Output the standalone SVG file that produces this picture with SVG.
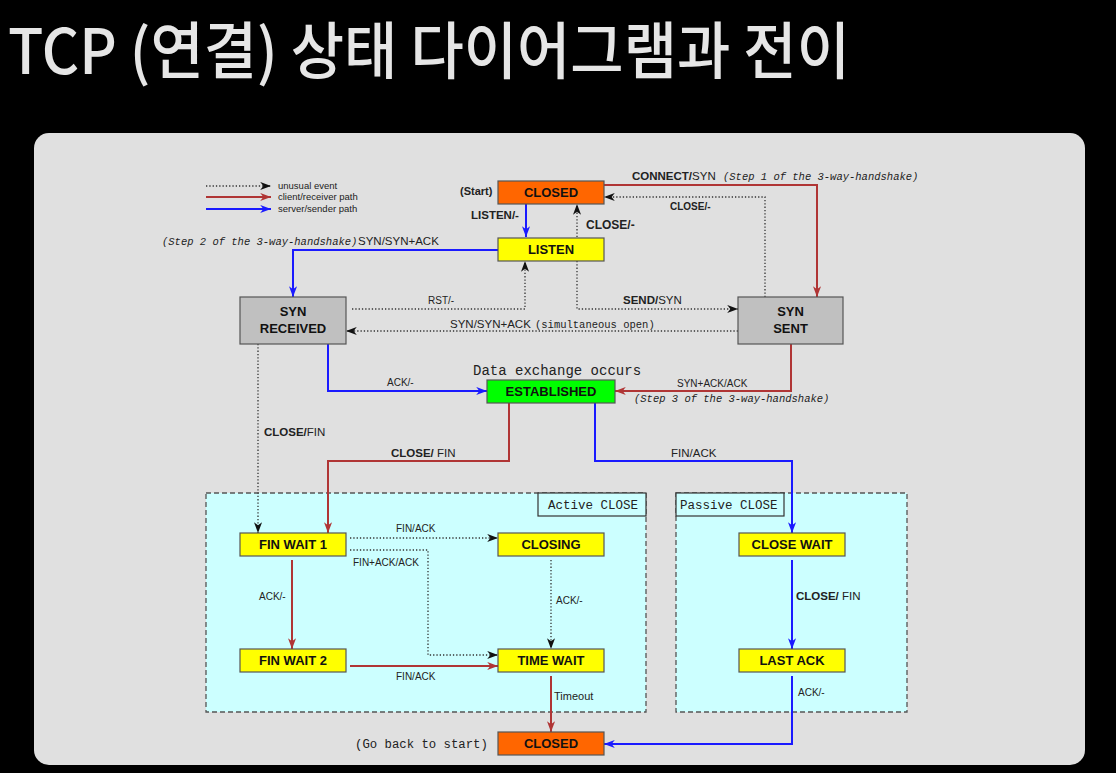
<svg xmlns="http://www.w3.org/2000/svg" width="1116" height="773" viewBox="0 0 1116 773">
<style>
.node rect{stroke:#555;stroke-width:1.2}
.nt{font-family:"Liberation Sans",Arial,sans-serif;font-weight:bold;font-size:13px;fill:#111;text-anchor:middle}
.lb{font-family:"Liberation Sans",Arial,sans-serif;fill:#222}
.b{font-weight:bold}
.mono{font-family:"Liberation Mono","DejaVu Sans Mono",monospace;fill:#222}
.it{font-style:italic}
.red{fill:none;stroke:#b03535;stroke-width:2;marker-end:url(#mr)}
.blue{fill:none;stroke:#1a1aff;stroke-width:2;marker-end:url(#mb)}
.dot{fill:none;stroke:#333;stroke-width:1.3;stroke-dasharray:1.3 2;marker-end:url(#mk)}
.zone{fill:#ccffff;stroke:#555;stroke-width:1.3;stroke-dasharray:5 3}
</style>
<defs>
<marker id="mr" viewBox="0 0 12 10" refX="12" refY="5" markerWidth="12" markerHeight="9" orient="auto" markerUnits="userSpaceOnUse"><path d="M0,0.5 L12,5 L0,9.5 L3.5,5 Z" fill="#b03535"/></marker>
<marker id="mb" viewBox="0 0 12 10" refX="12" refY="5" markerWidth="12" markerHeight="9" orient="auto" markerUnits="userSpaceOnUse"><path d="M0,0.5 L12,5 L0,9.5 L3.5,5 Z" fill="#1a1aff"/></marker>
<marker id="mk" viewBox="0 0 12 10" refX="12" refY="5" markerWidth="12" markerHeight="9" orient="auto" markerUnits="userSpaceOnUse"><path d="M0,0.5 L12,5 L0,9.5 L3.5,5 Z" fill="#111"/></marker>
</defs>
<rect width="1116" height="773" fill="#000"/>
<text x="8" y="74" font-family="'Noto Sans CJK KR','Noto Sans',sans-serif" font-size="62" font-weight="500" fill="#e6e6e6" textLength="842" lengthAdjust="spacingAndGlyphs">TCP (연결) 상태 다이어그램과 전이</text>
<rect x="34" y="133" width="1051" height="632" rx="15" fill="#e0e0e0"/>

<g id="zones">
<rect class="zone" x="206" y="493" width="440" height="219"/>
<rect x="538" y="493" width="108" height="23" fill="#ccffff" stroke="#333" stroke-width="1.2"/>
<text class="mono" x="548" y="509" font-size="12.5">Active CLOSE</text>
<rect class="zone" x="676" y="493" width="231" height="219"/>
<rect x="676" y="493" width="108" height="23" fill="#ccffff" stroke="#333" stroke-width="1.2"/>
<text class="mono" x="680" y="509" font-size="12.5">Passive CLOSE</text>
</g>

<g id="legend">
<path class="dot" d="M206,186 L271,186"/>
<path class="red" d="M206,197 L271,197"/>
<path class="blue" d="M206,209 L271,209"/>
<text class="lb" x="278" y="189" font-size="9.5" fill="#333">unusual event</text>
<text class="lb" x="278" y="200" font-size="9.5" fill="#333">client/receiver path</text>
<text class="lb" x="278" y="212" font-size="9.5" fill="#333">server/sender path</text>
</g>

<g id="connectors">
<path class="red" d="M604,185 L817,185 L817,297"/>
<path class="dot" d="M765,297 L765,197 L604,197"/>
<path class="blue" d="M526,204 L526,237"/>
<path class="dot" d="M577,237 L577,204"/>
<path class="blue" d="M498,250 L293,250 L293,297"/>
<path class="dot" d="M352,309 L525,309 L525,261"/>
<path class="dot" d="M577,261 L577,309 L738,309"/>
<path class="dot" d="M738,331 L346,331"/>
<path class="blue" d="M328,344 L328,391 L487,391"/>
<path class="red" d="M791,344 L791,391 L615,391"/>
<path class="dot" d="M258,344 L258,533"/>
<path class="red" d="M509,403 L509,461 L328,461 L328,533"/>
<path class="blue" d="M595,403 L595,461 L792,461 L792,533"/>
<path class="dot" d="M350,538 L498,538"/>
<path class="dot" d="M350,550 L428,550 L428,655 L498,655"/>
<path class="red" d="M292,560 L292,649"/>
<path class="red" d="M350,666 L498,666"/>
<path class="dot" d="M551,560 L551,649"/>
<path class="red" d="M551,676 L551,732"/>
<path class="blue" d="M792,560 L792,649"/>
<path class="blue" d="M792,676 L792,744 L604,744"/>
</g>

<g id="labels">
<text class="lb b" x="460" y="195" font-size="11">(Start)</text>
<text class="lb" x="632" y="180" font-size="11.5"><tspan class="b">CONNECT/</tspan>SYN</text>
<text class="mono it" x="723" y="180" font-size="10.5">(Step 1 of the 3-way-handshake)</text>
<text class="lb b" x="670" y="210" font-size="10">CLOSE/-</text>
<text class="lb b" x="471" y="219" font-size="11.5">LISTEN/-</text>
<text class="lb b" x="586" y="229" font-size="12">CLOSE/-</text>
<text class="mono it" x="162" y="245" font-size="10.5">(Step 2 of the 3-way-handshake)</text>
<text class="lb" x="358" y="245" font-size="11.5">SYN/SYN+ACK</text>
<text class="lb" x="428" y="304" font-size="10">RST/-</text>
<text class="lb" x="623" y="304" font-size="11.5"><tspan class="b">SEND/</tspan>SYN</text>
<text class="lb" x="450" y="328" font-size="11.5">SYN/SYN+ACK</text>
<text class="mono" x="535" y="328" font-size="10.5">(simultaneous open)</text>
<text class="mono" x="473" y="375" font-size="14">Data exchange occurs</text>
<text class="lb" x="387" y="386" font-size="10">ACK/-</text>
<text class="lb" x="677" y="387" font-size="10">SYN+ACK/ACK</text>
<text class="mono it" x="634" y="402" font-size="10.5">(Step 3 of the 3-way-handshake)</text>
<text class="lb" x="264" y="436" font-size="11.5"><tspan class="b">CLOSE/</tspan>FIN</text>
<text class="lb" x="391" y="457" font-size="11.5"><tspan class="b">CLOSE/</tspan> FIN</text>
<text class="lb" x="671" y="457" font-size="11.5">FIN/ACK</text>
<text class="lb" x="396" y="532" font-size="10">FIN/ACK</text>
<text class="lb" x="353" y="566" font-size="10">FIN+ACK/ACK</text>
<text class="lb" x="259" y="600" font-size="10">ACK/-</text>
<text class="lb" x="556" y="604" font-size="10">ACK/-</text>
<text class="lb" x="396" y="680" font-size="10">FIN/ACK</text>
<text class="lb" x="554" y="700" font-size="11">Timeout</text>
<text class="lb" x="796" y="600" font-size="11.5"><tspan class="b">CLOSE/</tspan> FIN</text>
<text class="lb" x="798" y="696" font-size="10">ACK/-</text>
<text class="mono" x="355" y="748" font-size="12.3">(Go back to start)</text>
</g>

<g id="n-closed" class="node"><rect x="498" y="181" width="106" height="23" fill="#ff6600"/><text class="nt" x="551" y="197">CLOSED</text></g>
<g id="n-listen" class="node"><rect x="498" y="238" width="106" height="23" fill="#ffff00"/><text class="nt" x="551" y="254">LISTEN</text></g>
<g id="n-synrcvd" class="node"><rect x="240" y="297" width="106" height="47" fill="#c0c0c0"/><text class="nt" x="293" y="316">SYN</text><text class="nt" x="293" y="333">RECEIVED</text></g>
<g id="n-synsent" class="node"><rect x="738" y="297" width="105" height="47" fill="#c0c0c0"/><text class="nt" x="790.5" y="316">SYN</text><text class="nt" x="790.5" y="333">SENT</text></g>
<g id="n-established" class="node"><rect x="487" y="380" width="128" height="23" fill="#00ff00"/><text class="nt" x="551" y="396">ESTABLISHED</text></g>
<g id="n-finwait1" class="node"><rect x="240" y="533" width="106" height="23" fill="#ffff00"/><text class="nt" x="293" y="549">FIN WAIT 1</text></g>
<g id="n-closing" class="node"><rect x="498" y="533" width="106" height="23" fill="#ffff00"/><text class="nt" x="551" y="549">CLOSING</text></g>
<g id="n-finwait2" class="node"><rect x="240" y="649" width="106" height="23" fill="#ffff00"/><text class="nt" x="293" y="665">FIN WAIT 2</text></g>
<g id="n-timewait" class="node"><rect x="498" y="649" width="106" height="23" fill="#ffff00"/><text class="nt" x="551" y="665">TIME WAIT</text></g>
<g id="n-closewait" class="node"><rect x="739" y="533" width="106" height="23" fill="#ffff00"/><text class="nt" x="792" y="549">CLOSE WAIT</text></g>
<g id="n-lastack" class="node"><rect x="739" y="649" width="106" height="23" fill="#ffff00"/><text class="nt" x="792" y="665">LAST ACK</text></g>
<g id="n-closed2" class="node"><rect x="498" y="732" width="106" height="23" fill="#ff6600"/><text class="nt" x="551" y="748">CLOSED</text></g>
</svg>
